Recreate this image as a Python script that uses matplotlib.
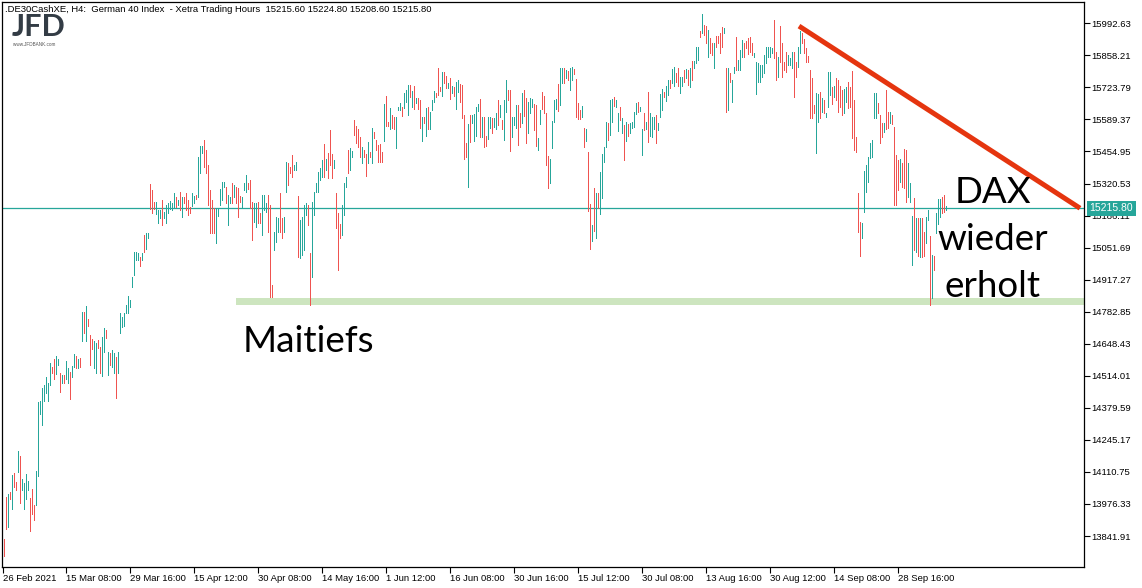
import numpy as np
import matplotlib
matplotlib.use("Agg")
import matplotlib.pyplot as plt

plt.rcParams['font.family'] = ['Liberation Sans', 'DejaVu Sans']

# H4 bars: highs / lows / direction (g = up, r = down)
# part 1: 26 Feb - mid May
highs_a = [13829, 14005, 14018, 14026, 14097, 14106, 14068, 14198, 14177, 14081,
           14064, 14102, 14072, 14001, 14039, 13972, 14114, 14404, 14408, 14462,
           14475, 14508, 14483, 14567, 14550, 14584, 14597, 14584, 14525, 14517,
           14517, 14576, 14546, 14529, 14555, 14605, 14597, 14584, 14588, 14781,
           14781, 14806, 14752, 14685, 14668, 14659, 14651, 14664, 14634, 14676,
           14714, 14706, 14613, 14609, 14622, 14609, 14592, 14613, 14777, 14760,
           14777, 14810, 14848, 14831, 14928, 15033, 15033, 15029, 15012, 15029,
           15104, 15113, 15113, 15318, 15293, 15243, 15243, 15209, 15209, 15251,
           15201, 15230, 15238, 15247, 15238, 15280, 15264, 15251, 15285, 15264,
           15264, 15280, 15251, 15222, 15280, 15268, 15272, 15431, 15478, 15478,
           15503, 15461, 15398, 15293, 15251, 15217, 15217, 15217, 15297, 15327,
           15327, 15306, 15272, 15264, 15322, 15314, 15306, 15301, 15268, 15264,
           15322, 15356, 15322, 15335, 15243, 15238, 15238, 15243, 15196, 15272,
           15272, 15238, 15272, 15230, 14894, 15117, 15180, 15175, 15280, 15175,
           15180, 15410, 15406, 15389, 15440, 15398, 15410, 15268, 15167, 15180,
           15230, 15238, 15230, 15029, 15243, 15285, 15322, 15369, 15385, 15419,
           15486, 15423, 15448, 15545, 15444, 15419, 15280, 15196, 15150, 15230,
           15322, 15348, 15461, 15469, 15457, 15587, 15561, 15549, 15515, 15473,
           15461, 15444, 15494, 15452, 15553, 15536, 15503, 15482]
lows_a = [13758, 13871, 13879, 13997, 13955, 14047, 14034, 14110, 13980, 14034,
          13955, 13997, 14034, 13862, 13934, 13909, 13972, 14093, 14353, 14307,
          14408, 14441, 14408, 14475, 14525, 14500, 14521, 14559, 14446, 14483,
          14483, 14500, 14483, 14416, 14508, 14550, 14546, 14546, 14550, 14659,
          14693, 14659, 14722, 14559, 14626, 14546, 14525, 14630, 14525, 14513,
          14613, 14672, 14517, 14559, 14550, 14525, 14420, 14525, 14693, 14718,
          14722, 14777, 14777, 14802, 14886, 14936, 14999, 14999, 14974, 14999,
          15033, 15045, 15092, 15213, 15196, 15213, 15192, 15154, 15175, 15146,
          15175, 15154, 15196, 15213, 15209, 15217, 15222, 15230, 15209, 15180,
          15238, 15209, 15188, 15196, 15226, 15238, 15255, 15264, 15364, 15448,
          15389, 15364, 15230, 15113, 15113, 15113, 15071, 15184, 15230, 15251,
          15306, 15238, 15146, 15238, 15238, 15264, 15238, 15180, 15243, 15222,
          15293, 15285, 15297, 15217, 15083, 15159, 15138, 15154, 15154, 15104,
          15209, 15201, 15117, 14844, 14844, 15041, 15075, 15117, 15117, 15092,
          15117, 15285, 15314, 15364, 15348, 15377, 15377, 15012, 15008, 15020,
          15041, 15188, 15146, 14810, 14928, 15188, 15285, 15285, 15335, 15348,
          15348, 15377, 15343, 15398, 15343, 15385, 15134, 14957, 15092, 15104,
          15188, 15306, 15364, 15377, 15431, 15524, 15490, 15473, 15431, 15406,
          15431, 15352, 15406, 15431, 15406, 15511, 15461, 15410]
dirs_a = ("rrgrgrrgrg" "gggrrrgggg" "ggggrrggrg" "rggrggrgrg" "rgrrrggrrg"
          "grgrggrggg" "ggggggggrg" "rggrrrgggr" "ggggggrgrg" "rrrrggrggg"
          "rrrrrrgggg" "grggrgrrrg" "ggrrrggrrg" "ggrrrgggrr" "ggrrrggrgg"
          "ggrrgggggg" "rgrrrgrrrg" "ggrggrrrrg" "rrgrgrrr")

# part 2: mid May - late Aug
highs_b = [15486, 15452, 15654, 15687, 15578, 15637, 15608, 15599, 15599, 15641,
           15658, 15641, 15700, 15712, 15733, 15733, 15708, 15729, 15679, 15679,
           15671, 15599, 15599, 15637, 15641, 15620, 15671, 15708, 15700, 15805,
           15725, 15788, 15788, 15771, 15742, 15763, 15729, 15725, 15746, 15754,
           15738, 15733, 15608, 15490, 15570, 15608, 15608, 15612, 15641, 15654,
           15675, 15599, 15599, 15519, 15599, 15599, 15595, 15595, 15616, 15671,
           15650, 15587, 15671, 15754, 15712, 15712, 15599, 15599, 15650, 15650,
           15616, 15700, 15712, 15679, 15662, 15679, 15675, 15654, 15650, 15511,
           15629, 15704, 15687, 15616, 15436, 15423, 15582, 15671, 15675, 15738,
           15805, 15805, 15805, 15796, 15792, 15805, 15809, 15801, 15759, 15658,
           15629, 15645, 15553, 15549, 15452, 15234, 15146, 15301, 15280, 15280,
           15369, 15444, 15473, 15578, 15574, 15671, 15675, 15683, 15671, 15616,
           15641, 15595, 15566, 15578, 15570, 15574, 15578, 15620, 15658, 15662,
           15641, 15549, 15616, 15578, 15704, 15616, 15599, 15599, 15608, 15574,
           15696, 15717, 15704, 15729, 15754, 15754, 15801, 15809, 15784, 15805,
           15767, 15767, 15796, 15801, 15796, 15805, 15834, 15834, 15893, 15893,
           15960, 16031, 15985, 15981, 15964, 15931, 15910, 15910, 15939, 15939,
           15952, 15977, 15973, 15805, 15805, 15784, 15754, 15809, 15935, 15838,
           15880, 15922, 15910, 15918, 15931, 15935, 15910, 15868, 15830, 15826]
lows_b = [15410, 15410, 15498, 15561, 15561, 15549, 15553, 15549, 15469, 15629,
          15629, 15603, 15637, 15662, 15608, 15683, 15641, 15633, 15658, 15633,
          15553, 15498, 15574, 15519, 15549, 15549, 15629, 15662, 15683, 15691,
          15708, 15687, 15742, 15721, 15721, 15675, 15700, 15687, 15633, 15704,
          15662, 15595, 15423, 15431, 15306, 15494, 15574, 15498, 15519, 15624,
          15515, 15515, 15473, 15478, 15507, 15553, 15532, 15557, 15549, 15566,
          15599, 15549, 15503, 15620, 15671, 15457, 15515, 15566, 15553, 15482,
          15557, 15574, 15603, 15490, 15532, 15616, 15641, 15545, 15478, 15461,
          15570, 15633, 15616, 15398, 15301, 15322, 15469, 15578, 15633, 15624,
          15650, 15742, 15742, 15763, 15754, 15712, 15754, 15780, 15599, 15591,
          15591, 15599, 15473, 15498, 15205, 15045, 15079, 15121, 15092, 15217,
          15192, 15259, 15410, 15473, 15503, 15524, 15578, 15645, 15641, 15540,
          15587, 15532, 15419, 15498, 15519, 15532, 15553, 15557, 15612, 15620,
          15624, 15440, 15545, 15549, 15494, 15519, 15515, 15549, 15490, 15545,
          15599, 15629, 15683, 15666, 15691, 15721, 15742, 15729, 15746, 15729,
          15700, 15729, 15746, 15763, 15733, 15725, 15754, 15805, 15826, 15838,
          15935, 15952, 15943, 15910, 15851, 15868, 15859, 15805, 15893, 15910,
          15868, 15893, 15952, 15620, 15629, 15746, 15662, 15784, 15796, 15796,
          15796, 15851, 15851, 15889, 15863, 15872, 15859, 15851, 15696, 15746]
dirs_b = ("rrgrrgrrgg" "grgggrgrgr" "rgrgrgggrr" "rgrrgrgrgg" "rrrrgrgggg"
          "rgrrggrggr" "grggrrgggr" "rgrrgggrrg" "grrrrggggr" "ggrgrggrrr"
          "rgrgrrgrgr" "ggggrggrgg" "rgrgrggggr" "ggrgrgggrg" "ggrggrggrr"
          "ggrgrgrggg" "rgrrgrrgrr" "rrgrgrggrg" "ggrrrrrggg")

# part 3: late Aug - early Oct
highs_c = [15817, 15817, 15859, 15893, 15893, 15893, 15889, 16006, 15872, 15851,
           15981, 15910, 15830, 15872, 15859, 15847, 15872, 15872, 15830, 15893,
           15960, 15952, 15926, 15889, 15855, 15796, 15763, 15650, 15700, 15696,
           15704, 15679, 15671, 15616, 15788, 15788, 15725, 15729, 15763, 15754,
           15729, 15712, 15717, 15725, 15746, 15725, 15792, 15671, 15515, 15280,
           15159, 15155, 15373, 15398, 15431, 15490, 15503, 15700, 15700, 15658,
           15608, 15574, 15574, 15712, 15620, 15620, 15608, 15557, 15440, 15419,
           15423, 15406, 15465, 15461, 15406, 15322, 15184, 15259, 15175, 15175,
           15175, 15175, 15117, 15180, 15209, 15100, 15020, 15016, 15196, 15255,
           15255, 15264, 15272, 15224.8]
lows_c = [15746, 15767, 15784, 15826, 15851, 15851, 15868, 15847, 15754, 15767,
          15830, 15767, 15796, 15788, 15817, 15817, 15805, 15683, 15767, 15809,
          15868, 15910, 15868, 15830, 15830, 15595, 15595, 15616, 15448, 15578,
          15595, 15620, 15616, 15599, 15641, 15691, 15654, 15683, 15671, 15620,
          15641, 15608, 15616, 15662, 15637, 15641, 15511, 15461, 15452, 15117,
          15016, 15092, 15201, 15285, 15327, 15427, 15431, 15595, 15595, 15616,
          15490, 15515, 15536, 15549, 15553, 15574, 15570, 15230, 15230, 15293,
          15327, 15306, 15301, 15243, 15264, 15243, 14978, 15041, 15033, 15016,
          15012, 15012, 15016, 15071, 15167, 14810, 14840, 14957, 15113, 15150,
          15180, 15196, 15201, 15208.6]
dirs_c = ("gggggggrrg" "rrrrgggrrg" "grrrrrrrgg" "rgrgggrgrr" "rrggrrrrrr"
          "rggggggggr" "rrgrrgrrrr" "grrrgggrgr" "grrggrgrgg" "grrg")

last_price = 15215.80
header = ".DE30CashXE, H4:  German 40 Index  - Xetra Trading Hours  15215.60 15224.80 15208.60 15215.80"

x_labels = ["26 Feb 2021", "15 Mar 08:00", "29 Mar 16:00", "15 Apr 12:00", "30 Apr 08:00",
            "14 May 16:00", "1 Jun 12:00", "16 Jun 08:00", "30 Jun 16:00", "15 Jul 12:00",
            "30 Jul 08:00", "13 Aug 16:00", "30 Aug 12:00", "14 Sep 08:00", "28 Sep 16:00"]
y_ticks = [15992.63, 15858.21, 15723.79, 15589.37, 15454.95, 15320.53, 15186.11, 15051.69,
           14917.27, 14782.85, 14648.43, 14514.01, 14379.59, 14245.17, 14110.75, 13976.33,
           13841.91]

# support zone (May lows) and falling trend line (bar index, price)
zone_start, zone_low, zone_high = 116, 14810, 14841
trend_x = [397.5, 538]
trend_y = [15981, 15217]

highs = np.array(highs_a + highs_b + highs_c)
lows = np.array(lows_a + lows_b + lows_c)
dirs = dirs_a + dirs_b + dirs_c
n = len(highs)
x = np.arange(n)

up_col = '#26a69a'
dn_col = '#ef5350'
colors = [up_col if d == 'g' else dn_col for d in dirs]

fig = plt.figure(figsize=(11.42, 5.88), dpi=100)
ax = fig.add_axes([2 / 1142, 21 / 588, 1082 / 1142, 565 / 588])
ax.set_xlim(-1, 540)
ax.set_ylim(13712, 16082)

# price bars (high-low lines)
ax.vlines(x, lows, highs, colors=colors, linewidth=0.6, antialiased=False, zorder=3)

# current price line
ax.axhline(last_price, color=up_col, linewidth=0.9, zorder=2)

# support zone
ax.fill_between([zone_start, 540], zone_low, zone_high, color='#cde5bf', linewidth=0, zorder=1)

# trend line
ax.plot(trend_x, trend_y, color='#e5350f', linewidth=3.6, solid_capstyle='butt', zorder=4)

# annotations
big = dict(family=['Lato', 'DejaVu Sans'], fontsize=26.5, color='black', zorder=5)
ax.text(119.5, 14613, "Maitiefs", ha='left', va='baseline', **big)
ax.text(494.5, 15238, "DAX", ha='center', va='baseline', **big)
ax.text(494.5, 15041, "wieder", ha='center', va='baseline', **big)
ax.text(494.5, 14844, "erholt", ha='center', va='baseline', **big)

# axes look like the terminal
for s in ax.spines.values():
    s.set_color('black')
    s.set_linewidth(0.9)
ax.yaxis.tick_right()
ax.set_yticks(y_ticks)
ax.set_yticklabels([f"{v:.2f}" for v in y_ticks])
ax.tick_params(axis='y', direction='out', length=4, width=0.8, pad=1, labelsize=6.8)

tick_pos = [-0.5] + [31 + 32 * k for k in range(len(x_labels) - 1)]
ax.set_xticks(tick_pos)
ax.set_xticklabels(x_labels, ha='left')
ax.tick_params(axis='x', direction='out', length=4, width=0.8, pad=1, labelsize=6.8)

# last price tag on the right axis
ax.annotate(f"{last_price:.2f}", xy=(1.0, last_price), xycoords=('axes fraction', 'data'),
            xytext=(4, 0), textcoords='offset points', ha='left', va='center',
            fontsize=7.5, color='white', annotation_clip=False, zorder=10,
            bbox=dict(boxstyle='square,pad=0.25', fc=up_col, ec='none'))

# header and logo
fig.text(5 / 1142, 1 - 10 / 588, header, fontsize=6.8, va='center', ha='left')
fig.text(12 / 1142, 1 - 27 / 588, "JFD", fontsize=22, fontweight='bold',
         family=['Lato', 'DejaVu Sans'], color='#333c45', va='center', ha='left')
fig.text(13 / 1142, 1 - 45 / 588, "www.JFDBANK.com", fontsize=3.3, color='#555555',
         va='center', ha='left')

fig.savefig('out.png', dpi=100, facecolor='white')
